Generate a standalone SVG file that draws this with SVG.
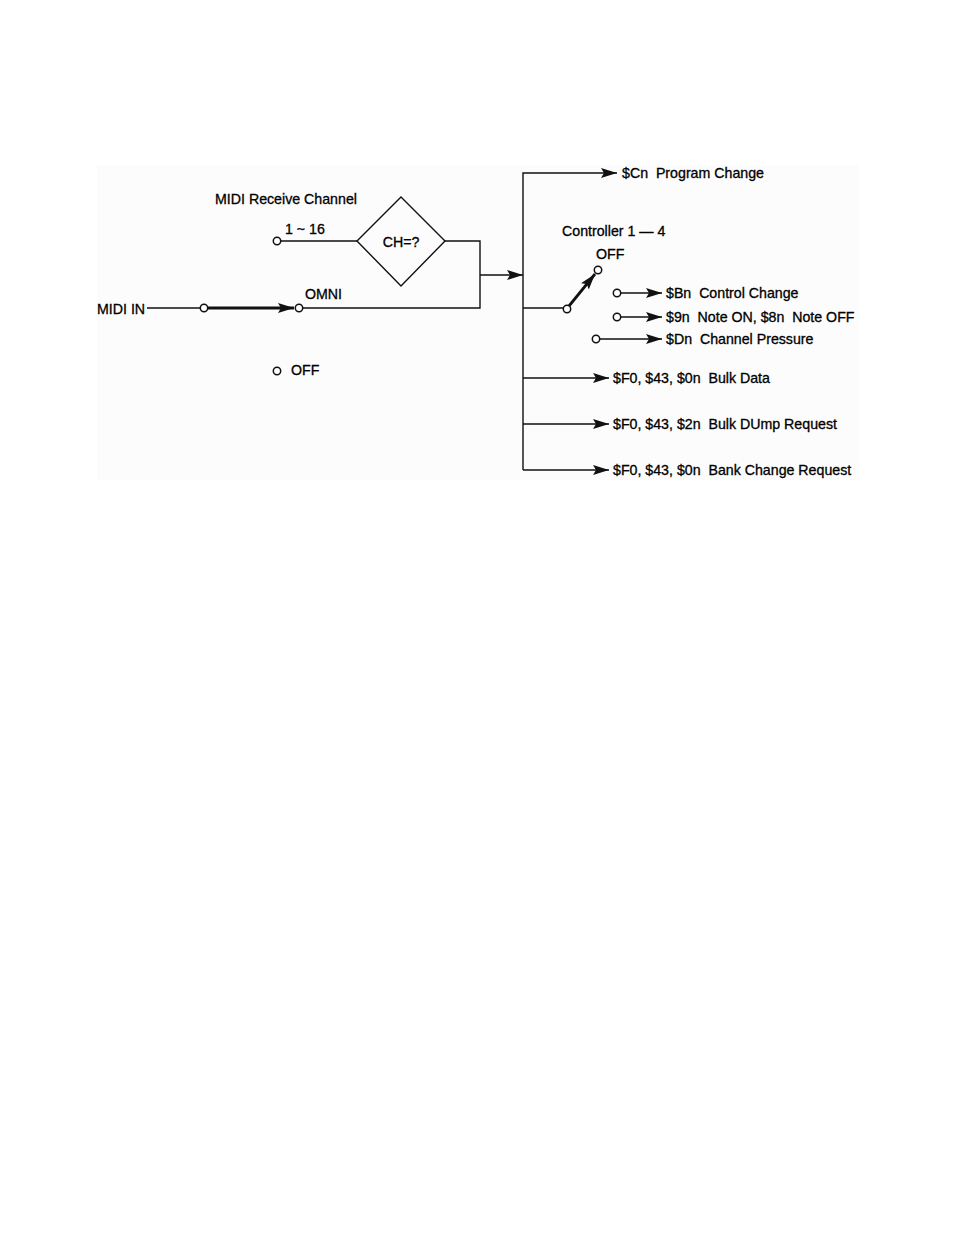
<svg xmlns="http://www.w3.org/2000/svg" width="954" height="1235" viewBox="0 0 954 1235">
<style>
.t{font-family:"Liberation Sans",Arial,sans-serif;font-size:14.2px;fill:#000;stroke:#000;stroke-width:0.3;white-space:pre}
.l{stroke:#111;stroke-width:1.4;fill:none}
.th{stroke:#111;stroke-width:2.8;fill:none}
.c{stroke:#111;stroke-width:1.5;fill:#fff}
</style>
<defs>
<marker id="ar" markerUnits="userSpaceOnUse" markerWidth="17" markerHeight="12" refX="16" refY="6" orient="auto">
<path d="M0,1 L16,6 L0,11 L3,6 Z" fill="#111"/>
</marker>
</defs>
<rect width="954" height="1235" fill="#fff"/>
<rect x="97" y="165" width="761" height="315" fill="#fcfcfc"/>
<g id="connectors">
<path class="l" d="M147,308 H200"/>
<path class="th" d="M208,308 H294" marker-end="url(#ar)"/>
<path class="l" d="M303,308 H480 V241 H444"/>
<path class="l" d="M281,241 H357"/>
<path class="l" d="M480,275 H523" marker-end="url(#ar)"/>
<path class="l" d="M523,470 V173 H617" marker-end="url(#ar)"/>
<path class="l" d="M523,308 H564"/>
<path class="th" d="M569,306 L595,274" marker-end="url(#ar)"/>
<path class="l" d="M621,293 H662" marker-end="url(#ar)"/>
<path class="l" d="M621,317 H662" marker-end="url(#ar)"/>
<path class="l" d="M600,339 H662" marker-end="url(#ar)"/>
<path class="l" d="M523,378 H609" marker-end="url(#ar)"/>
<path class="l" d="M523,424 H609" marker-end="url(#ar)"/>
<path class="l" d="M523,470 H609" marker-end="url(#ar)"/>
</g>
<g id="midi-in"><text class="t" x="97" y="314">MIDI IN</text><circle class="c" cx="204" cy="308" r="3.7"/></g>
<g id="omni"><circle class="c" cx="299" cy="308" r="3.7"/><text class="t" x="305" y="299">OMNI</text></g>
<g id="ch-1-16"><text class="t" x="215" y="204">MIDI Receive Channel</text><text class="t" x="285" y="234">1 ~ 16</text><circle class="c" cx="277" cy="241" r="3.7"/></g>
<g id="off-left"><circle class="c" cx="277" cy="371" r="3.7"/><text class="t" x="291" y="375">OFF</text></g>
<g id="ch-diamond"><path class="l" d="M357,241 L401,197 L445,241 L401,286 Z" fill="#fcfcfc"/><text class="t" x="401" y="247" text-anchor="middle">CH=?</text></g>
<g id="program-change"><text class="t" x="622" y="178">$Cn  Program Change</text></g>
<g id="controller"><text class="t" x="562" y="236">Controller 1 — 4</text><text class="t" x="596" y="259">OFF</text><circle class="c" cx="598" cy="270" r="3.7"/><circle class="c" cx="567" cy="309" r="3.7"/></g>
<g id="control-change"><circle class="c" cx="617" cy="293" r="3.7"/><text class="t" x="666" y="298">$Bn  Control Change</text></g>
<g id="note"><circle class="c" cx="617" cy="317" r="3.7"/><text class="t" x="666" y="322">$9n  Note ON, $8n  Note OFF</text></g>
<g id="pressure"><circle class="c" cx="596" cy="339" r="3.7"/><text class="t" x="666" y="344">$Dn  Channel Pressure</text></g>
<g id="bulk-data"><text class="t" x="613" y="383">$F0, $43, $0n  Bulk Data</text></g>
<g id="bulk-dump"><text class="t" x="613" y="429">$F0, $43, $2n  Bulk DUmp Request</text></g>
<g id="bank-change"><text class="t" x="613" y="475">$F0, $43, $0n  Bank Change Request</text></g>
</svg>
